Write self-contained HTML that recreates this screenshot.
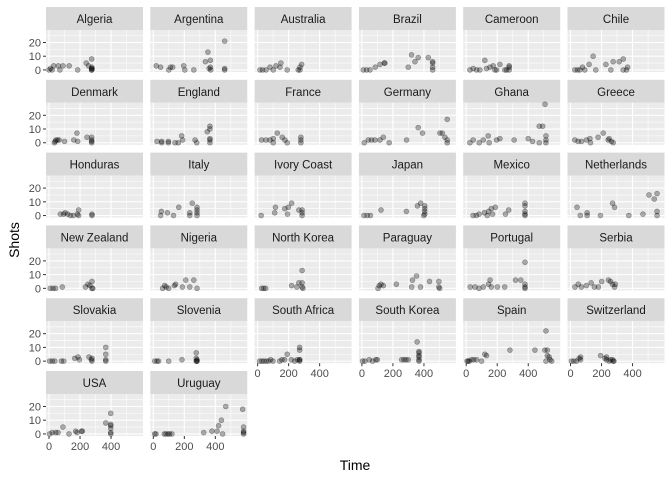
<!DOCTYPE html>
<html><head><meta charset="utf-8"><style>body{margin:0;background:#fff}svg{display:block;font-family:"Liberation Sans",Arial,sans-serif}</style></head>
<body>
<svg id="chart" width="672" height="480"></svg>
<script>
const countries = ["Algeria","Argentina","Australia","Brazil","Cameroon","Chile","Denmark","England","France","Germany","Ghana","Greece","Honduras","Italy","Ivory Coast","Japan","Mexico","Netherlands","New Zealand","Nigeria","North Korea","Paraguay","Portugal","Serbia","Slovakia","Slovenia","South Africa","South Korea","Spain","Switzerland","USA","Uruguay"];
const xTicks = [0,200,400];
const yTicks = [0,10,20];
const pts = {
"Algeria":[[0,0],[10,1],[20,0],[30,3],[60,3],[70,0],[90,3],[130,3],[185,0],[240,5],[255,3],[275,8],[275,2],[275,1],[275,0],[275,0],[278,1]],
"Argentina":[[19,3],[47,2],[100,0],[110,2],[125,2],[196,3],[203,0],[261,0],[336,6],[352,13],[368,7],[368,2],[360,1],[370,0],[460,21],[460,1],[460,0]],
"Australia":[[15,0],[32,0],[54,0],[80,2],[101,0],[118,3],[144,2],[150,5],[191,0],[262,0],[273,2],[284,4],[273,0]],
"Brazil":[[9,0],[30,0],[52,0],[86,2],[116,4],[144,5],[148,5],[299,2],[320,11],[342,6],[363,9],[428,9],[456,6],[456,5],[456,2],[456,0]],
"Cameroon":[[24,0],[45,1],[67,0],[88,0],[120,7],[131,1],[153,2],[174,3],[185,0],[196,0],[217,4],[249,0],[260,0],[277,3],[277,2],[277,0]],
"Chile":[[28,0],[45,0],[60,0],[77,2],[92,0],[120,4],[146,10],[163,0],[228,4],[260,0],[275,6],[314,6],[340,8],[340,0],[361,0],[368,2]],
"Denmark":[[35,0],[40,1],[45,2],[55,2],[65,2],[100,1],[160,2],[180,7],[185,1],[245,4],[275,4],[275,2],[275,1],[275,0]],
"England":[[24,1],[54,0],[54,1],[97,1],[97,0],[140,0],[161,0],[183,5],[189,2],[269,2],[280,0],[348,8],[365,12],[365,10],[365,3],[365,2],[365,0]],
"France":[[26,2],[54,2],[80,2],[101,3],[101,0],[127,7],[159,4],[176,2],[191,0],[279,4],[279,2],[279,0]],
"Germany":[[15,0],[41,2],[62,2],[84,2],[116,2],[138,4],[176,0],[288,2],[363,11],[391,7],[503,7],[518,7],[535,4],[550,17],[550,2],[550,0]],
"Ghana":[[24,0],[45,2],[84,0],[110,2],[142,5],[148,0],[196,2],[217,3],[309,2],[400,3],[428,1],[471,0],[471,12],[493,12],[508,28],[514,5],[514,2],[514,0]],
"Greece":[[28,2],[49,1],[71,1],[103,2],[125,3],[129,0],[178,4],[211,7],[243,2],[249,3],[264,1],[275,0]],
"Honduras":[[73,1],[94,1],[104,2],[120,1],[138,0],[157,0],[183,1],[191,4],[191,0],[277,1],[277,0]],
"Italy":[[47,0],[52,3],[91,2],[130,0],[164,6],[235,2],[235,0],[251,9],[282,6],[282,4],[282,2],[282,0]],
"Ivory Coast":[[23,0],[110,2],[115,6],[175,5],[193,1],[198,6],[219,9],[266,4],[287,4],[287,2],[287,0]],
"Japan":[[13,0],[34,0],[55,0],[123,4],[287,3],[358,7],[379,9],[405,7],[405,5],[405,3],[405,1],[399,0]],
"Mexico":[[44,0],[65,0],[83,1],[117,2],[136,0],[144,3],[162,5],[188,6],[170,1],[253,1],[274,4],[379,9],[379,7],[379,3],[379,1],[379,0]],
"Netherlands":[[42,6],[63,0],[107,2],[107,0],[193,0],[271,9],[284,6],[376,0],[467,1],[506,15],[540,12],[558,16],[558,3],[558,0]],
"New Zealand":[[8,0],[26,0],[42,0],[86,1],[235,1],[251,3],[264,2],[277,5],[277,0],[282,0]],
"Nigeria":[[60,0],[73,2],[83,1],[99,0],[136,2],[144,3],[188,1],[209,6],[235,1],[261,6],[282,0]],
"North Korea":[[26,0],[39,0],[52,0],[219,2],[253,1],[266,4],[287,13],[287,4],[287,1],[292,0]],
"Paraguay":[[104,0],[112,2],[123,3],[138,2],[222,3],[321,1],[326,6],[352,9],[378,1],[436,5],[496,5],[496,1],[501,0]],
"Portugal":[[26,1],[57,1],[83,0],[110,1],[144,3],[154,6],[162,1],[201,1],[248,1],[318,6],[352,6],[379,19],[379,3],[379,1],[379,0]],
"Serbia":[[29,1],[50,3],[70,1],[102,2],[133,4],[154,1],[180,1],[201,5],[245,6],[258,5],[271,3],[284,1],[289,3]],
"Slovakia":[[4,0],[21,0],[37,0],[80,0],[95,0],[166,2],[187,3],[196,1],[258,3],[273,1],[277,0],[277,2],[366,10],[366,5],[366,1],[366,0]],
"Slovenia":[[9,0],[24,0],[34,0],[99,0],[185,1],[277,6],[277,2],[282,1],[282,0],[280,0],[277,0]],
"South Africa":[[13,0],[28,0],[41,0],[56,0],[71,0],[84,1],[99,0],[142,0],[157,1],[174,1],[191,5],[217,1],[239,0],[256,1],[271,1],[271,10],[271,8],[271,1],[271,0]],
"South Korea":[[4,0],[19,0],[47,1],[69,0],[90,1],[99,1],[256,1],[271,1],[284,1],[299,1],[356,14],[368,7],[368,6],[368,4],[368,3],[368,1],[368,0]],
"Spain":[[6,0],[13,0],[19,0],[34,1],[49,1],[67,1],[99,0],[120,5],[131,4],[282,8],[443,8],[514,22],[523,8],[507,8],[523,4],[535,3],[540,1],[514,0],[551,0]],
"Switzerland":[[6,0],[22,0],[39,0],[56,2],[65,3],[65,1],[194,4],[222,2],[232,3],[232,1],[249,0],[258,1],[271,1],[280,0],[275,0]],
"USA":[[4,0],[21,1],[43,1],[58,1],[90,5],[129,0],[172,2],[181,1],[209,2],[215,2],[366,8],[398,15],[398,7],[398,6],[398,4],[398,1],[398,0]],
"Uruguay":[[9,0],[17,0],[71,0],[82,0],[95,0],[105,0],[120,0],[325,1],[378,2],[411,2],[421,6],[439,10],[447,0],[467,20],[576,18],[582,5],[582,2],[582,1],[582,0]]
};
const NS="http://www.w3.org/2000/svg";
const svg=document.getElementById('chart');
function mk(tag,attrs,parent){const e=document.createElementNS(NS,tag);for(const k in attrs)e.setAttribute(k,attrs[k]);(parent||svg).appendChild(e);return e;}
const PW=97,PH=42,SH=23,X0=46,DX=104.3,Y0=7,DY=72.8;
const XMIN=-19.4,XMAX=606,YMIN=-1.5,YMAX=29.1;
countries.forEach((c,i)=>{
  const col=i%6,row=Math.floor(i/6);
  const L=X0+col*DX,T=Y0+row*DY,PT=T+SH;
  const sx=t=>L+(t-XMIN)/(XMAX-XMIN)*PW;
  const sy=v=>PT+PH-(v-YMIN)/(YMAX-YMIN)*PH;
  const g=mk('g',{});
  
  
  const st=mk('rect',{x:L,y:T,width:PW,height:SH,fill:'#D9D9D9'},g);
  
  
  const tx=mk('text',{x:L+PW/2,y:T+16,'text-anchor':'middle','font-size':'11.5',fill:'#1A1A1A'},g);tx.textContent=c;
  
  
  const bg=mk('rect',{x:L,y:PT,width:PW,height:PH,fill:'#EBEBEB'},g);
  
  
  [100,300,500].forEach(t=>mk('line',{x1:sx(t),x2:sx(t),y1:PT,y2:PT+PH,stroke:'#fff','stroke-width':0.55},g));
  [5,15,25].forEach(v=>mk('line',{x1:L,x2:L+PW,y1:sy(v),y2:sy(v),stroke:'#fff','stroke-width':0.55},g));
  xTicks.forEach(t=>mk('line',{x1:sx(t),x2:sx(t),y1:PT,y2:PT+PH,stroke:'#fff','stroke-width':1.1},g));
  yTicks.forEach(v=>mk('line',{x1:L,x2:L+PW,y1:sy(v),y2:sy(v),stroke:'#fff','stroke-width':1.1},g));
  pts[c].forEach(p=>{
    const d=mk('circle',{cx:sx(p[0]),cy:sy(p[1]),r:2.5,fill:'rgba(0,0,0,0.3)',stroke:'rgba(0,0,0,0.35)','stroke-width':0.6},g);
    
    
  });
  if(col===0){
    yTicks.forEach(v=>{
      mk('line',{x1:L-3,x2:L,y1:sy(v),y2:sy(v),stroke:'#333','stroke-width':1},g);
      const t=mk('text',{x:L-5,y:sy(v)+4,'text-anchor':'end','font-size':'11',fill:'#4D4D4D'},g);t.textContent=v;
      
      
    });
  }
  const last=(i+6>=countries.length);
  if(last){
    xTicks.forEach(v=>{
      mk('line',{x1:sx(v),x2:sx(v),y1:PT+PH,y2:PT+PH+3,stroke:'#333','stroke-width':1},g);
      const t=mk('text',{x:sx(v),y:PT+PH+14,'text-anchor':'middle','font-size':'11',fill:'#4D4D4D'},g);t.textContent=v;
      
      
    });
  }
});
const xt=mk('text',{x:355,y:470,'text-anchor':'middle','font-size':'14',fill:'#000'});xt.textContent='Time';


const yt=mk('text',{x:0,y:0,'text-anchor':'middle','font-size':'14',fill:'#000',transform:'translate(19,240) rotate(-90)'});yt.textContent='Shots';


</script>
</body></html>
